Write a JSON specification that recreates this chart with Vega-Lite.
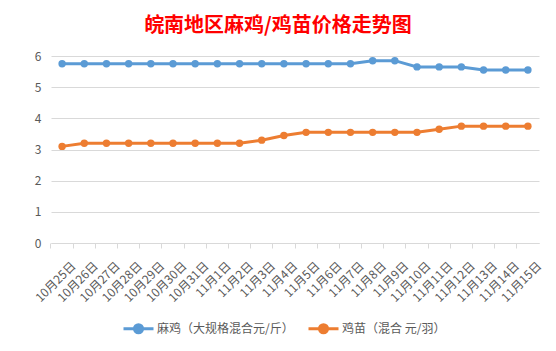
{
  "$schema": "https://vega.github.io/schema/vega-lite/v6.json",
  "autosize": {"type": "none"},
  "width": 488,
  "height": 187,
  "padding": {"left": 51, "top": 56, "right": 17, "bottom": 108},
  "background": "white",
  "title": {"text": "皖南地区麻鸡/鸡苗价格走势图", "color": "#FF0000", "fontSize": 20, "font": "Noto Sans CJK SC", "fontWeight": "bold", "anchor": "middle", "dx": -17, "offset": 14},
  "config": {"view": {"stroke": null}, "font": "Noto Sans CJK SC"},
  "data": {"values": [
    {"date": "10月25日", "series": "麻鸡（大规格混合元/斤）", "value": 5.75},
    {"date": "10月26日", "series": "麻鸡（大规格混合元/斤）", "value": 5.75},
    {"date": "10月27日", "series": "麻鸡（大规格混合元/斤）", "value": 5.75},
    {"date": "10月28日", "series": "麻鸡（大规格混合元/斤）", "value": 5.75},
    {"date": "10月29日", "series": "麻鸡（大规格混合元/斤）", "value": 5.75},
    {"date": "10月30日", "series": "麻鸡（大规格混合元/斤）", "value": 5.75},
    {"date": "10月31日", "series": "麻鸡（大规格混合元/斤）", "value": 5.75},
    {"date": "11月1日", "series": "麻鸡（大规格混合元/斤）", "value": 5.75},
    {"date": "11月2日", "series": "麻鸡（大规格混合元/斤）", "value": 5.75},
    {"date": "11月3日", "series": "麻鸡（大规格混合元/斤）", "value": 5.75},
    {"date": "11月4日", "series": "麻鸡（大规格混合元/斤）", "value": 5.75},
    {"date": "11月5日", "series": "麻鸡（大规格混合元/斤）", "value": 5.75},
    {"date": "11月6日", "series": "麻鸡（大规格混合元/斤）", "value": 5.75},
    {"date": "11月7日", "series": "麻鸡（大规格混合元/斤）", "value": 5.75},
    {"date": "11月8日", "series": "麻鸡（大规格混合元/斤）", "value": 5.85},
    {"date": "11月9日", "series": "麻鸡（大规格混合元/斤）", "value": 5.85},
    {"date": "11月10日", "series": "麻鸡（大规格混合元/斤）", "value": 5.65},
    {"date": "11月11日", "series": "麻鸡（大规格混合元/斤）", "value": 5.65},
    {"date": "11月12日", "series": "麻鸡（大规格混合元/斤）", "value": 5.65},
    {"date": "11月13日", "series": "麻鸡（大规格混合元/斤）", "value": 5.55},
    {"date": "11月14日", "series": "麻鸡（大规格混合元/斤）", "value": 5.55},
    {"date": "11月15日", "series": "麻鸡（大规格混合元/斤）", "value": 5.55},
    {"date": "10月25日", "series": "鸡苗（混合 元/羽）", "value": 3.1},
    {"date": "10月26日", "series": "鸡苗（混合 元/羽）", "value": 3.2},
    {"date": "10月27日", "series": "鸡苗（混合 元/羽）", "value": 3.2},
    {"date": "10月28日", "series": "鸡苗（混合 元/羽）", "value": 3.2},
    {"date": "10月29日", "series": "鸡苗（混合 元/羽）", "value": 3.2},
    {"date": "10月30日", "series": "鸡苗（混合 元/羽）", "value": 3.2},
    {"date": "10月31日", "series": "鸡苗（混合 元/羽）", "value": 3.2},
    {"date": "11月1日", "series": "鸡苗（混合 元/羽）", "value": 3.2},
    {"date": "11月2日", "series": "鸡苗（混合 元/羽）", "value": 3.2},
    {"date": "11月3日", "series": "鸡苗（混合 元/羽）", "value": 3.3},
    {"date": "11月4日", "series": "鸡苗（混合 元/羽）", "value": 3.45},
    {"date": "11月5日", "series": "鸡苗（混合 元/羽）", "value": 3.55},
    {"date": "11月6日", "series": "鸡苗（混合 元/羽）", "value": 3.55},
    {"date": "11月7日", "series": "鸡苗（混合 元/羽）", "value": 3.55},
    {"date": "11月8日", "series": "鸡苗（混合 元/羽）", "value": 3.55},
    {"date": "11月9日", "series": "鸡苗（混合 元/羽）", "value": 3.55},
    {"date": "11月10日", "series": "鸡苗（混合 元/羽）", "value": 3.55},
    {"date": "11月11日", "series": "鸡苗（混合 元/羽）", "value": 3.65},
    {"date": "11月12日", "series": "鸡苗（混合 元/羽）", "value": 3.75},
    {"date": "11月13日", "series": "鸡苗（混合 元/羽）", "value": 3.75},
    {"date": "11月14日", "series": "鸡苗（混合 元/羽）", "value": 3.75},
    {"date": "11月15日", "series": "鸡苗（混合 元/羽）", "value": 3.75}
  ]},
  "encoding": {
    "x": {"field": "date", "type": "ordinal", "sort": null,
      "scale": {"type": "band", "paddingInner": 0, "paddingOuter": 0},
      "axis": {"title": null, "labelAngle": -45, "labelFontSize": 12, "labelColor": "#595959", "domainColor": "#D9D9D9", "tickColor": "#D9D9D9", "tickSize": 5, "bandPosition": 0, "labelOffset": 8, "labelPadding": 12, "grid": false}},
    "y": {"field": "value", "type": "quantitative", "scale": {"domain": [0, 6]},
      "axis": {"title": null, "values": [0, 1, 2, 3, 4, 5, 6], "domain": false, "ticks": false, "gridColor": "#D9D9D9", "labelColor": "#595959", "labelFontSize": 12, "labelPadding": 10}},
    "color": {"field": "series", "type": "nominal",
      "scale": {"domain": ["麻鸡（大规格混合元/斤）", "鸡苗（混合 元/羽）"], "range": ["#5B9BD5", "#ED7D31"]},
      "legend": {"orient": "none", "legendX": 71, "legendY": 256, "direction": "horizontal", "title": null,
        "symbolType": "M-1,0L1,0M0.27,0A0.27,0.27,0,1,1,-0.27,0A0.27,0.27,0,1,1,0.27,0Z",
        "symbolSize": 900, "symbolStrokeWidth": 3, "labelFontSize": 12, "labelColor": "#595959", "labelLimit": 300, "columnPadding": 8, "labelOffset": 2}}
  },
  "layer": [
    {"mark": {"type": "line", "strokeWidth": 3}},
    {"mark": {"type": "point", "filled": true, "size": 55, "opacity": 1}}
  ]
}
